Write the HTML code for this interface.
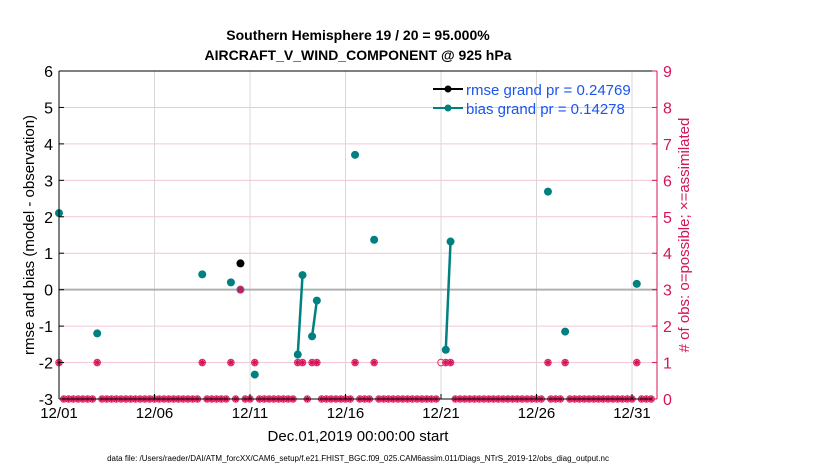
<!DOCTYPE html>
<html><head><meta charset="utf-8"><style>
body{margin:0;background:#fff;width:830px;height:470px;overflow:hidden}
svg text{font-family:"Liberation Sans",Arial,sans-serif}
</style></head><body>
<svg id="c" width="830" height="470" xmlns="http://www.w3.org/2000/svg">
<text x="358" y="40" text-anchor="middle" font-size="14" font-weight="bold">Southern Hemisphere 19 / 20 = 95.000%</text>
<text x="358" y="60" text-anchor="middle" font-size="14" font-weight="bold">AIRCRAFT_V_WIND_COMPONENT @ 925 hPa</text>
<g id="grid"></g><g id="marks"></g><g id="axes"></g>
<text transform="translate(34,235) rotate(-90)" text-anchor="middle" font-size="15">rmse and bias (model - observation)</text>
<text transform="translate(689,235) rotate(-90)" text-anchor="middle" font-size="15" fill="#d4145a"># of obs: o=possible; ×=assimilated</text>
<text x="358" y="441" text-anchor="middle" font-size="15">Dec.01,2019 00:00:00 start</text>
<text x="358" y="461" text-anchor="middle" font-size="8">data file: /Users/raeder/DAI/ATM_forcXX/CAM6_setup/f.e21.FHIST_BGC.f09_025.CAM6assim.011/Diags_NTrS_2019-12/obs_diag_output.nc</text>
<g>
<line x1="433" y1="89" x2="463" y2="89" stroke="#000" stroke-width="2"/><circle cx="448" cy="89" r="3.5" fill="#000"/>
<text x="466" y="95" font-size="15" fill="#1a55ee">rmse grand pr = 0.24769</text>
<line x1="433" y1="108" x2="463" y2="108" stroke="#008080" stroke-width="2"/><circle cx="448" cy="108" r="3.5" fill="#008080"/>
<text x="466" y="114" font-size="15" fill="#1a55ee">bias grand pr = 0.14278</text>
</g>
</svg>
<script>
const xTickLabels=["12/01","12/06","12/11","12/16","12/21","12/26","12/31"];
const xTickDays=[0,5,10,15,20,25,30];
const yTicks=[-3,-2,-1,0,1,2,3,4,5,6];
const rTicks=[0,1,2,3,4,5,6,7,8,9];
const biasDays=[0,2,7.5,9,9.5,10.25,12.5,12.75,13.25,13.5,15.5,16.5,20.25,20.5,25.6,26.5,30.25];
const biasVals=[2.1,-1.2,0.42,0.2,0.0,-2.33,-1.78,0.4,-1.28,-0.3,3.7,1.37,-1.65,1.32,2.69,-1.15,0.16];
const rmseDays=[9.5];
const rmseVals=[0.72];
const obsDays=[0,2,7.5,9,9.5,10.25,12.5,12.75,13.25,13.5,15.5,16.5,20.25,20.5,25.6,26.5,30.25];
const obsCounts=[1,1,1,1,3,1,1,1,1,1,1,1,1,1,1,1,1];
const possibleOnlyDays=[20];
const L=59,R=657,T=71,B=399;
const X=d=>L+d*(632-59)/30;
const Y=v=>B-(v+3)*(B-T)/9;
const YR=c=>B-c*(B-T)/9;
const ns="http://www.w3.org/2000/svg";
function mk(p,t,a){const e=document.createElementNS(ns,t);for(const k in a)e.setAttribute(k,a[k]);document.getElementById(p).appendChild(e);return e;}
yTicks.forEach(v=>{const e=mk('grid','line',{x1:L,x2:R,y1:Y(v),y2:Y(v),stroke:'#f3c6d6','stroke-width':1});

});
xTickDays.forEach((d,i)=>{const e=mk('grid','line',{x1:X(d),x2:X(d),y1:T,y2:B,stroke:'#d8d8d8','stroke-width':1});


const t=mk('axes','text',{x:X(d),y:B+19,'text-anchor':'middle','font-size':15});t.textContent=xTickLabels[i];


mk('axes','line',{x1:X(d),x2:X(d),y1:B,y2:B-5,stroke:'#000'});});
const z=mk('grid','line',{x1:L,x2:R,y1:Y(0),y2:Y(0),stroke:'#b0b0b0','stroke-width':2});


mk('axes','line',{x1:L,x2:L,y1:T,y2:B,stroke:'#000'});
mk('axes','line',{x1:L,x2:R,y1:T,y2:T,stroke:'#000'});
mk('axes','line',{x1:L,x2:R,y1:B,y2:B,stroke:'#000'});
mk('axes','line',{x1:R,x2:R,y1:T,y2:B,stroke:'#d4145a'});
yTicks.forEach(v=>{const t=mk('axes','text',{x:L-6,y:Y(v)+6,'text-anchor':'end','font-size':16});t.textContent=v;


mk('axes','line',{x1:L,x2:L+5,y1:Y(v),y2:Y(v),stroke:'#000'});});
rTicks.forEach(c=>{const t=mk('axes','text',{x:R+6,y:YR(c)+6,'font-size':16,fill:'#d4145a'});t.textContent=c;


mk('axes','line',{x1:R-5,x2:R,y1:YR(c),y2:YR(c),stroke:'#d4145a'});});
function star(x,y){mk('marks','circle',{cx:x,cy:y,r:3.3,fill:'none',stroke:'#e0306a','stroke-width':1});
const g=mk('marks','path',{d:`M${x-3} ${y}H${x+3}M${x} ${y-3}V${y+3}M${x-2.2} ${y-2.2}L${x+2.2} ${y+2.2}M${x-2.2} ${y+2.2}L${x+2.2} ${y-2.2}`,stroke:'#d4145a','stroke-width':1.4});

}
for(let i=1;i<biasDays.length;i++){if(biasDays[i]-biasDays[i-1]<=0.26){const l=mk('marks','line',{x1:X(biasDays[i-1]),y1:Y(biasVals[i-1]),x2:X(biasDays[i]),y2:Y(biasVals[i]),stroke:'#008080','stroke-width':2.5});

}}
biasDays.forEach((d,i)=>{const c=mk('marks','circle',{cx:X(d),cy:Y(biasVals[i]),r:4,fill:'#008080'});

});
rmseDays.forEach((d,i)=>{const c=mk('marks','circle',{cx:X(d),cy:Y(rmseVals[i]),r:4,fill:'#000'});

});
const taken=new Set(obsDays.map(d=>Math.round(d*4)).concat(possibleOnlyDays.map(d=>Math.round(d*4))));
for(let q=0;q<=124;q++){if(!taken.has(q))star(X(q/4),YR(0));}
obsDays.forEach((d,i)=>star(X(d),YR(obsCounts[i])));
possibleOnlyDays.forEach(d=>{const e=mk('marks','circle',{cx:X(d),cy:YR(1),r:3.3,fill:'none',stroke:'#e0306a'});

});
</script>
</body></html>
